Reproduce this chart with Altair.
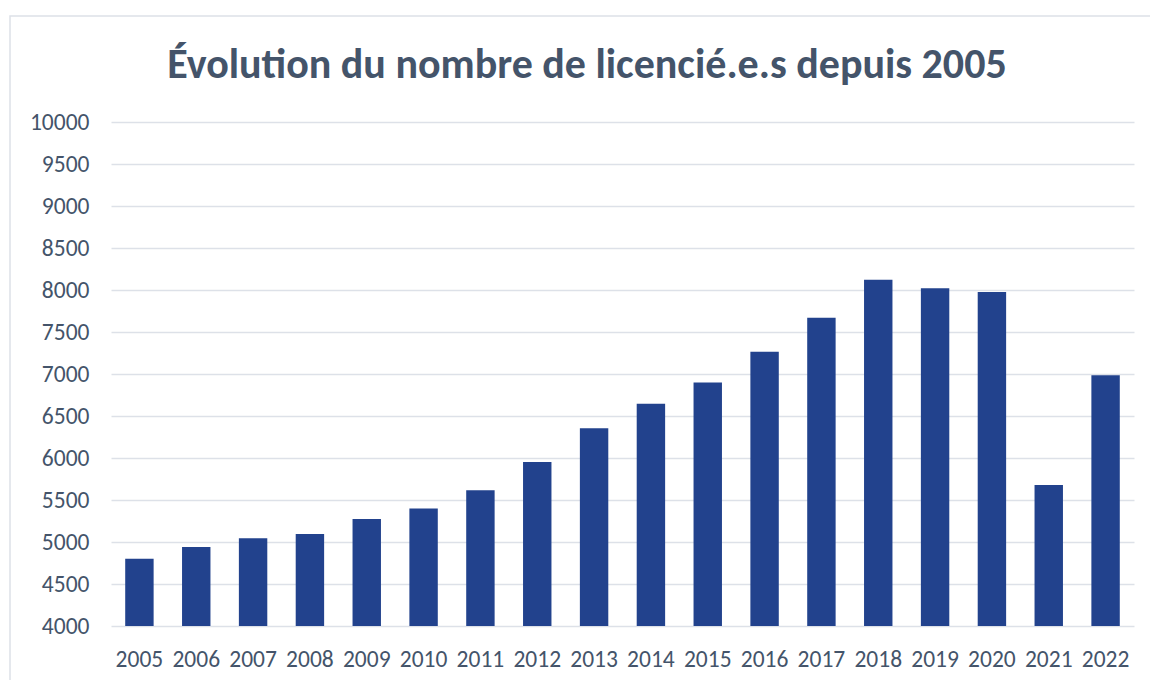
import altair as alt
import pandas as pd

years = [str(y) for y in range(2005, 2023)]
licencies = [4800, 4940, 5045, 5095, 5275, 5400, 5615, 5952, 6353, 6647,
             6900, 7266, 7671, 8123, 8020, 7976, 5679, 6984]
title_text = ["Évolution du nombre de licencié.e.s depuis 2005"]

df = pd.DataFrame({"annee": years, "licencies": licencies})

FONT = "Calibri, Carlito, Lato, sans-serif"
TXT = "#44546A"
GRID = "#DDE1E8"

bars = alt.Chart(df).mark_bar(color="#22428D", clip=True).encode(
    x=alt.X("annee:N", sort=years, title=None,
            scale=alt.Scale(paddingInner=0.5, paddingOuter=0.25),
            axis=alt.Axis(labelAngle=0, labelFontSize=23.5, labelColor=TXT,
                          labelFont=FONT, labelPadding=21, ticks=False,
                          domain=False, grid=False)),
    y=alt.Y("licencies:Q", title=None,
            scale=alt.Scale(domain=[4000, 10000], nice=False, zero=False),
            axis=alt.Axis(values=list(range(4000, 10001, 500)), format="d",
                          labelFontSize=23.5, labelColor=TXT, labelFont=FONT,
                          labelPadding=22, ticks=False, domain=False, grid=True,
                          gridColor=GRID, gridWidth=1.5, labelFlush=False)),
)

frame = alt.Chart(pd.DataFrame({"a": [0]})).mark_rect(
    fillOpacity=0, stroke=GRID, strokeWidth=1.5
).encode(x=alt.value(-101), x2=alt.value(1049), y=alt.value(-106), y2=alt.value(568))

title = alt.Chart(pd.DataFrame({"t": title_text})).mark_text(
    font=FONT, fontSize=42, fontWeight="bold", color=TXT,
    align="center", baseline="alphabetic"
).encode(text="t:N", x=alt.value(476), y=alt.value(-44))

chart = alt.layer(frame, bars, title).properties(
    width=1023, height=504,
    background="white",
    padding={"left": 111, "top": 122, "right": 16, "bottom": 54},
    autosize=alt.AutoSizeParams(type="none"),
).configure_view(stroke=None)

chart.save("out.html", embed_options={"renderer": "svg", "actions": False})
